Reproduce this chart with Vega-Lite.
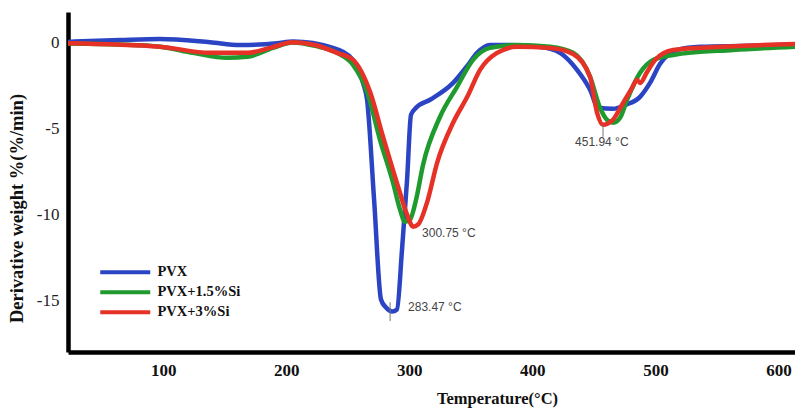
{
  "$schema": "https://vega.github.io/schema/vega-lite/v6.json",
  "width": 727,
  "height": 340,
  "autosize": {"type": "none"},
  "padding": {"left": 68, "top": 12, "right": 0, "bottom": 56},
  "background": "white",
  "config": {"view": {"stroke": null}},
  "datasets": {
    "curves": [
      {"s": "PVX", "t": 22.7, "v": 0.06},
      {"s": "PVX", "t": 65.0, "v": 0.17},
      {"s": "PVX", "t": 97.5, "v": 0.23},
      {"s": "PVX", "t": 138.1, "v": 0.04},
      {"s": "PVX", "t": 162.5, "v": -0.12},
      {"s": "PVX", "t": 192.5, "v": -0.02},
      {"s": "PVX", "t": 205.5, "v": 0.08},
      {"s": "PVX", "t": 238.0, "v": -0.29},
      {"s": "PVX", "t": 254.3, "v": -0.99},
      {"s": "PVX", "t": 262.4, "v": -2.33},
      {"s": "PVX", "t": 265.7, "v": -3.31},
      {"s": "PVX", "t": 271.4, "v": -9.13},
      {"s": "PVX", "t": 277.0, "v": -14.94},
      {"s": "PVX", "t": 281.1, "v": -15.41},
      {"s": "PVX", "t": 286.0, "v": -15.64},
      {"s": "PVX", "t": 290.0, "v": -15.52},
      {"s": "PVX", "t": 294.1, "v": -12.03},
      {"s": "PVX", "t": 298.2, "v": -7.97},
      {"s": "PVX", "t": 301.4, "v": -4.19},
      {"s": "PVX", "t": 305.5, "v": -3.78},
      {"s": "PVX", "t": 316.9, "v": -3.31},
      {"s": "PVX", "t": 335.6, "v": -2.33},
      {"s": "PVX", "t": 347.1, "v": -1.34},
      {"s": "PVX", "t": 355.1, "v": -0.58},
      {"s": "PVX", "t": 365.6, "v": -0.12},
      {"s": "PVX", "t": 381.9, "v": -0.12},
      {"s": "PVX", "t": 406.3, "v": -0.23},
      {"s": "PVX", "t": 422.5, "v": -0.58},
      {"s": "PVX", "t": 436.3, "v": -1.57},
      {"s": "PVX", "t": 446.9, "v": -2.73},
      {"s": "PVX", "t": 453.4, "v": -3.78},
      {"s": "PVX", "t": 465.6, "v": -3.84},
      {"s": "PVX", "t": 476.1, "v": -3.6},
      {"s": "PVX", "t": 487.5, "v": -3.14},
      {"s": "PVX", "t": 495.6, "v": -2.33},
      {"s": "PVX", "t": 503.8, "v": -1.22},
      {"s": "PVX", "t": 517.6, "v": -0.41},
      {"s": "PVX", "t": 536.3, "v": -0.22},
      {"s": "PVX", "t": 576.9, "v": -0.17},
      {"s": "PVX", "t": 613.4, "v": -0.09},
      {"s": "PVX+1.5%Si", "t": 22.7, "v": -0.03},
      {"s": "PVX+1.5%Si", "t": 65.0, "v": -0.09},
      {"s": "PVX+1.5%Si", "t": 97.5, "v": -0.22},
      {"s": "PVX+1.5%Si", "t": 124.3, "v": -0.58},
      {"s": "PVX+1.5%Si", "t": 151.9, "v": -0.87},
      {"s": "PVX+1.5%Si", "t": 168.2, "v": -0.81},
      {"s": "PVX+1.5%Si", "t": 189.3, "v": -0.29},
      {"s": "PVX+1.5%Si", "t": 205.5, "v": 0.03},
      {"s": "PVX+1.5%Si", "t": 223.4, "v": -0.17},
      {"s": "PVX+1.5%Si", "t": 241.3, "v": -0.58},
      {"s": "PVX+1.5%Si", "t": 254.3, "v": -1.28},
      {"s": "PVX+1.5%Si", "t": 265.7, "v": -2.85},
      {"s": "PVX+1.5%Si", "t": 276.2, "v": -5.64},
      {"s": "PVX+1.5%Si", "t": 286.8, "v": -8.14},
      {"s": "PVX+1.5%Si", "t": 292.5, "v": -9.71},
      {"s": "PVX+1.5%Si", "t": 296.5, "v": -10.41},
      {"s": "PVX+1.5%Si", "t": 300.6, "v": -10.29},
      {"s": "PVX+1.5%Si", "t": 305.5, "v": -9.13},
      {"s": "PVX+1.5%Si", "t": 311.2, "v": -7.09},
      {"s": "PVX+1.5%Si", "t": 325.0, "v": -4.3},
      {"s": "PVX+1.5%Si", "t": 338.8, "v": -2.56},
      {"s": "PVX+1.5%Si", "t": 351.8, "v": -0.99},
      {"s": "PVX+1.5%Si", "t": 365.6, "v": -0.29},
      {"s": "PVX+1.5%Si", "t": 387.6, "v": -0.12},
      {"s": "PVX+1.5%Si", "t": 414.4, "v": -0.23},
      {"s": "PVX+1.5%Si", "t": 433.1, "v": -0.58},
      {"s": "PVX+1.5%Si", "t": 446.9, "v": -1.98},
      {"s": "PVX+1.5%Si", "t": 455.0, "v": -3.78},
      {"s": "PVX+1.5%Si", "t": 460.7, "v": -4.48},
      {"s": "PVX+1.5%Si", "t": 465.6, "v": -4.65},
      {"s": "PVX+1.5%Si", "t": 471.3, "v": -4.36},
      {"s": "PVX+1.5%Si", "t": 477.0, "v": -3.31},
      {"s": "PVX+1.5%Si", "t": 487.5, "v": -1.74},
      {"s": "PVX+1.5%Si", "t": 498.1, "v": -0.99},
      {"s": "PVX+1.5%Si", "t": 514.4, "v": -0.7},
      {"s": "PVX+1.5%Si", "t": 563.1, "v": -0.41},
      {"s": "PVX+1.5%Si", "t": 613.4, "v": -0.22},
      {"s": "PVX+3%Si", "t": 22.7, "v": -0.02},
      {"s": "PVX+3%Si", "t": 97.5, "v": -0.22},
      {"s": "PVX+3%Si", "t": 138.1, "v": -0.58},
      {"s": "PVX+3%Si", "t": 168.2, "v": -0.58},
      {"s": "PVX+3%Si", "t": 186.8, "v": -0.29},
      {"s": "PVX+3%Si", "t": 205.5, "v": 0.04},
      {"s": "PVX+3%Si", "t": 223.4, "v": -0.12},
      {"s": "PVX+3%Si", "t": 241.3, "v": -0.58},
      {"s": "PVX+3%Si", "t": 254.3, "v": -0.99},
      {"s": "PVX+3%Si", "t": 268.1, "v": -2.85},
      {"s": "PVX+3%Si", "t": 278.7, "v": -5.47},
      {"s": "PVX+3%Si", "t": 290.9, "v": -8.37},
      {"s": "PVX+3%Si", "t": 298.2, "v": -10.0},
      {"s": "PVX+3%Si", "t": 303.1, "v": -10.7},
      {"s": "PVX+3%Si", "t": 307.1, "v": -10.58},
      {"s": "PVX+3%Si", "t": 314.4, "v": -9.3},
      {"s": "PVX+3%Si", "t": 322.6, "v": -6.98},
      {"s": "PVX+3%Si", "t": 335.6, "v": -4.65},
      {"s": "PVX+3%Si", "t": 347.1, "v": -3.14},
      {"s": "PVX+3%Si", "t": 357.5, "v": -1.57},
      {"s": "PVX+3%Si", "t": 371.3, "v": -0.58},
      {"s": "PVX+3%Si", "t": 387.6, "v": -0.23},
      {"s": "PVX+3%Si", "t": 414.4, "v": -0.29},
      {"s": "PVX+3%Si", "t": 433.1, "v": -0.64},
      {"s": "PVX+3%Si", "t": 446.9, "v": -1.98},
      {"s": "PVX+3%Si", "t": 452.6, "v": -4.07},
      {"s": "PVX+3%Si", "t": 457.4, "v": -4.77},
      {"s": "PVX+3%Si", "t": 464.8, "v": -4.53},
      {"s": "PVX+3%Si", "t": 472.9, "v": -3.6},
      {"s": "PVX+3%Si", "t": 481.0, "v": -2.62},
      {"s": "PVX+3%Si", "t": 485.1, "v": -2.15},
      {"s": "PVX+3%Si", "t": 487.5, "v": -2.33},
      {"s": "PVX+3%Si", "t": 493.2, "v": -1.69},
      {"s": "PVX+3%Si", "t": 499.7, "v": -0.99},
      {"s": "PVX+3%Si", "t": 514.4, "v": -0.41},
      {"s": "PVX+3%Si", "t": 552.5, "v": -0.23},
      {"s": "PVX+3%Si", "t": 613.4, "v": -0.06}
    ],
    "peaks": [
      {"t": 284.4, "y1": -15.1, "y2": -16.2},
      {"t": 457.4, "y1": -4.77, "y2": -5.47}
    ],
    "notes": [
      {"t": 299.0, "v": -15.38, "label": "283.47 °C"},
      {"t": 310.4, "v": -11.05, "label": "300.75 °C"},
      {"t": 434.7, "v": -5.78, "label": "451.94 °C"}
    ]
  },
  "layer": [
    {
      "data": {"name": "curves"},
      "mark": {"type": "line", "strokeWidth": 4.5, "interpolate": "monotone"},
      "encoding": {
        "x": {
          "field": "t", "type": "quantitative",
          "scale": {"domain": [22.7, 613.4], "nice": false, "zero": false},
          "axis": {
            "values": [100, 200, 300, 400, 500, 600],
            "title": "Temperature(°C)",
            "titleFont": "Liberation Serif", "titleFontWeight": "bold", "titleFontSize": 16.5, "titleColor": "#111",
            "titleX": 429, "titleY": 51, "titleBaseline": "alphabetic", "titleAlign": "center",
            "labelFont": "Liberation Serif", "labelFontWeight": "bold", "labelFontSize": 17, "labelColor": "#111",
            "labelPadding": 10, "ticks": false, "grid": false,
            "domainColor": "#000", "domainWidth": 4.5
          }
        },
        "y": {
          "field": "v", "type": "quantitative",
          "scale": {"domain": [-18, 1.8], "nice": false, "zero": false},
          "axis": {
            "values": [0, -5, -10, -15],
            "labelExpr": "replace(datum.label, '\u2212', '-')",
            "title": "Derivative weight %(%/min)",
            "titleFont": "Liberation Serif", "titleFontWeight": "bold", "titleFontSize": 18.5, "titleColor": "#111",
            "titleX": -52, "titleY": 196, "titleAngle": -90, "titleBaseline": "middle", "titleAlign": "center",
            "labelFont": "Liberation Serif", "labelFontSize": 17, "labelColor": "#222",
            "labelPadding": 9, "ticks": false, "grid": false,
            "domainColor": "#000", "domainWidth": 4.5
          }
        },
        "color": {
          "field": "s", "type": "nominal",
          "scale": {"domain": ["PVX", "PVX+1.5%Si", "PVX+3%Si"], "range": ["#2b44c4", "#1e9a2e", "#e63127"]},
          "legend": {
            "orient": "none", "legendX": 50, "legendY": 253, "title": null,
            "symbolType": "M-5,0H5", "symbolSize": 100, "symbolStrokeWidth": 4,
            "labelFont": "Liberation Serif", "labelFontWeight": "bold", "labelFontSize": 14.5, "labelColor": "#111",
            "labelOffset": 25, "rowPadding": 3, "padding": 0
          }
        }
      }
    },
    {
      "data": {"name": "peaks"},
      "mark": {"type": "rule", "color": "#777", "strokeWidth": 1},
      "encoding": {
        "x": {"field": "t", "type": "quantitative"},
        "y": {"field": "y1", "type": "quantitative"},
        "y2": {"field": "y2"}
      }
    },
    {
      "data": {"name": "notes"},
      "mark": {"type": "text", "align": "left", "baseline": "middle", "font": "Liberation Sans Narrow, Liberation Sans", "fontSize": 12, "color": "#444"},
      "encoding": {
        "x": {"field": "t", "type": "quantitative"},
        "y": {"field": "v", "type": "quantitative"},
        "text": {"field": "label"}
      }
    }
  ]
}
